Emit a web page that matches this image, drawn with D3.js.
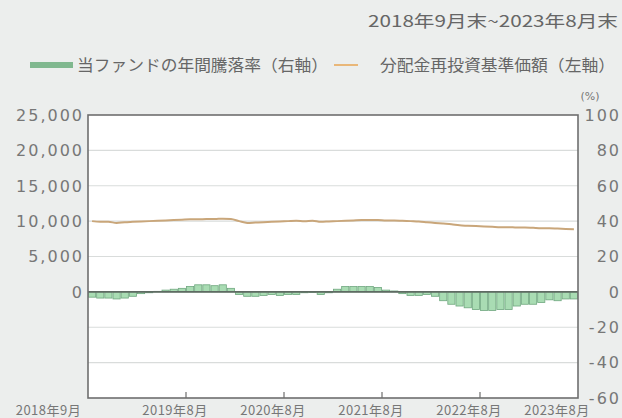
<!DOCTYPE html>
<html><head><meta charset="utf-8">
<script src="https://cdn.jsdelivr.net/npm/d3@7"></script>
<style>
html,body{margin:0;padding:0;background:#eceeed;}
svg{display:block;}
</style></head>
<body>
<svg id="chart" width="622" height="418"></svg>
<script>
// ---- data ----
const months = [
 "2018-09","2018-10","2018-11","2018-12","2019-01","2019-02","2019-03","2019-04","2019-05","2019-06","2019-07","2019-08",
 "2019-09","2019-10","2019-11","2019-12","2020-01","2020-02","2020-03","2020-04","2020-05","2020-06","2020-07","2020-08",
 "2020-09","2020-10","2020-11","2020-12","2021-01","2021-02","2021-03","2021-04","2021-05","2021-06","2021-07","2021-08",
 "2021-09","2021-10","2021-11","2021-12","2022-01","2022-02","2022-03","2022-04","2022-05","2022-06","2022-07","2022-08",
 "2022-09","2022-10","2022-11","2022-12","2023-01","2023-02","2023-03","2023-04","2023-05","2023-06","2023-07","2023-08"];
const annualReturn = [
 -3,-3.5,-3.5,-4,-3.5,-2.5,-1,-0.5,0.3,1,1.5,2,
 3,4,4,3.5,4,2,-1.5,-2.5,-2.5,-2,-1.5,-2,
 -1.5,-1.5,-0.5,-0.3,-1.5,-0.5,1.5,3,3,3,3,2.5,
 1,0.5,-1,-2,-2,-1.5,-2.5,-5,-7,-8,-9,-10,
 -10.5,-10.5,-10,-10,-8,-7,-7,-6,-4.5,-5,-4,-4];
const navReinvested = [
 10000,9900,9900,9750,9850,9900,9950,10000,10050,10100,10150,10200,
 10250,10250,10300,10300,10350,10300,10000,9750,9800,9850,9900,9950,
 10000,10050,10000,10050,9900,9950,10000,10050,10100,10150,10150,10150,
 10100,10100,10050,10000,9950,9850,9750,9650,9550,9400,9350,9300,
 9250,9200,9150,9150,9100,9100,9050,9000,9000,8950,8900,8850];
const leftTicks = [0,5000,10000,15000,20000,25000];
const rightTicks = [-60,-40,-20,0,20,40,60,80,100];
const xTickMonths = ["2019-08","2020-08","2021-08","2022-08"];
const xLabelMonths = ["2018-09","2019-08","2020-08","2021-08","2022-08","2023-08"];
const xLabels = ["2018年9月","2019年8月","2020年8月","2021年8月","2022年8月","2023年8月"];
const titleText = "2018年9月末~2023年8月末";
const legendBar = "当ファンドの年間騰落率（右軸）";
const legendLine = "分配金再投資基準価額（左軸）";

// ---- layout ----
const L = 88, R = 578, T = 115, B = 398;
const svg = d3.select("#chart");
const numFont = "'DejaVu Sans', sans-serif";
const jpFont = "'Noto Sans CJK JP', sans-serif";
const textCol = "#777";

const x = d3.scaleBand().domain(months).range([L, R]).paddingInner(0.12).paddingOuter(0.06);
const yR = d3.scaleLinear().domain([-60, 100]).range([B, T]);
const yL = d3.scaleLinear().domain([-15000, 25000]).range([B, T]);

// plot background
svg.append("rect").attr("x", L).attr("y", T).attr("width", R - L).attr("height", B - T).attr("fill", "#fff");

// gridlines
svg.append("g").selectAll("line").data(rightTicks.filter(d => d > -60 && d < 100 && d !== 0)).join("line")
  .attr("x1", L).attr("x2", R).attr("y1", d => yR(d)).attr("y2", d => yR(d))
  .attr("stroke", "#d9dcdb").attr("stroke-width", 1.2);

// bars
svg.append("g").selectAll("rect").data(months).join("rect")
  .attr("x", d => x(d))
  .attr("width", x.bandwidth())
  .attr("y", (d, i) => Math.min(yR(annualReturn[i]), yR(0)))
  .attr("height", (d, i) => Math.abs(yR(annualReturn[i]) - yR(0)))
  .attr("fill", "#a9dcb3").attr("stroke", "#6fa77f").attr("stroke-width", 0.8);

// zero line
svg.append("line").attr("x1", L).attr("x2", R).attr("y1", yR(0)).attr("y2", yR(0))
  .attr("stroke", "#5f6b63").attr("stroke-width", 1.8);

// NAV line
const line = d3.line().x((d, i) => x(months[i]) + x.bandwidth() / 2).y(d => yL(d)).curve(d3.curveMonotoneX);
svg.append("path").datum(navReinvested).attr("d", line)
  .attr("fill", "none").attr("stroke", "#c9a67a").attr("stroke-width", 2);

// frame
svg.append("rect").attr("x", L).attr("y", T).attr("width", R - L).attr("height", B - T)
  .attr("fill", "none").attr("stroke", "#6e6e6e").attr("stroke-width", 1.6);

// bottom ticks
const bandEnd = m => x(m) + x.bandwidth() + x.step() * x.paddingInner() / 2;
svg.append("g").selectAll("line").data(xTickMonths).join("line")
  .attr("x1", d => bandEnd(d)).attr("x2", d => bandEnd(d)).attr("y1", B).attr("y2", B - 6)
  .attr("stroke", "#6e6e6e").attr("stroke-width", 1.2);

// left axis labels
svg.append("g").selectAll("text").data(leftTicks).join("text")
  .attr("x", L - 4).attr("y", d => yL(d)).attr("dy", "0.36em")
  .attr("text-anchor", "end").attr("font-family", numFont).attr("font-size", 16)
  .attr("letter-spacing", 2).attr("fill", textCol)
  .text(d => d3.format(",")(d));

// right axis labels
svg.append("g").selectAll("text").data(rightTicks).join("text")
  .attr("x", 621).attr("y", d => yR(d)).attr("dy", "0.36em")
  .attr("text-anchor", "end").attr("font-family", numFont).attr("font-size", 16)
  .attr("letter-spacing", 2).attr("fill", textCol)
  .text(d => d);
svg.append("text").attr("x", 590).attr("y", 96).attr("dy", "0.35em").attr("text-anchor", "middle")
  .attr("font-family", numFont).attr("font-size", 11).attr("fill", textCol).text("(%)");

// x labels
svg.append("g").selectAll("text").data(xLabelMonths).join("text")
  .attr("x", (d, i) => i === 0 ? x(d) - 40 : (i === xLabelMonths.length - 1 ? bandEnd(d) - 21 : bandEnd(d) - 11))
  .attr("y", 410).attr("dy", "0.35em").attr("text-anchor", "middle")
  .attr("font-family", jpFont).attr("font-size", 13).attr("letter-spacing", 0.5).attr("fill", textCol)
  .text((d, i) => xLabels[i]);

// title
svg.append("text").attr("x", 618).attr("y", 21).attr("dy", "0.35em").attr("text-anchor", "end")
  .attr("font-family", jpFont).attr("font-size", 16).attr("fill", "#666")
  .attr("textLength", 250).attr("lengthAdjust", "spacingAndGlyphs").text(titleText);

// legend
svg.append("rect").attr("x", 30).attr("y", 62).attr("width", 43).attr("height", 6).attr("fill", "#80b88f");
svg.append("text").attr("x", 77).attr("y", 65.5).attr("dy", "0.35em")
  .attr("font-family", jpFont).attr("font-size", 16).attr("fill", "#666")
  .attr("textLength", 251).attr("lengthAdjust", "spacingAndGlyphs").text(legendBar);
svg.append("line").attr("x1", 334).attr("x2", 358).attr("y1", 65).attr("y2", 65)
  .attr("stroke", "#e9b779").attr("stroke-width", 2);
svg.append("text").attr("x", 380).attr("y", 65.5).attr("dy", "0.35em")
  .attr("font-family", jpFont).attr("font-size", 16).attr("fill", "#666")
  .attr("textLength", 235).attr("lengthAdjust", "spacingAndGlyphs").text(legendLine);
</script>
</body></html>
